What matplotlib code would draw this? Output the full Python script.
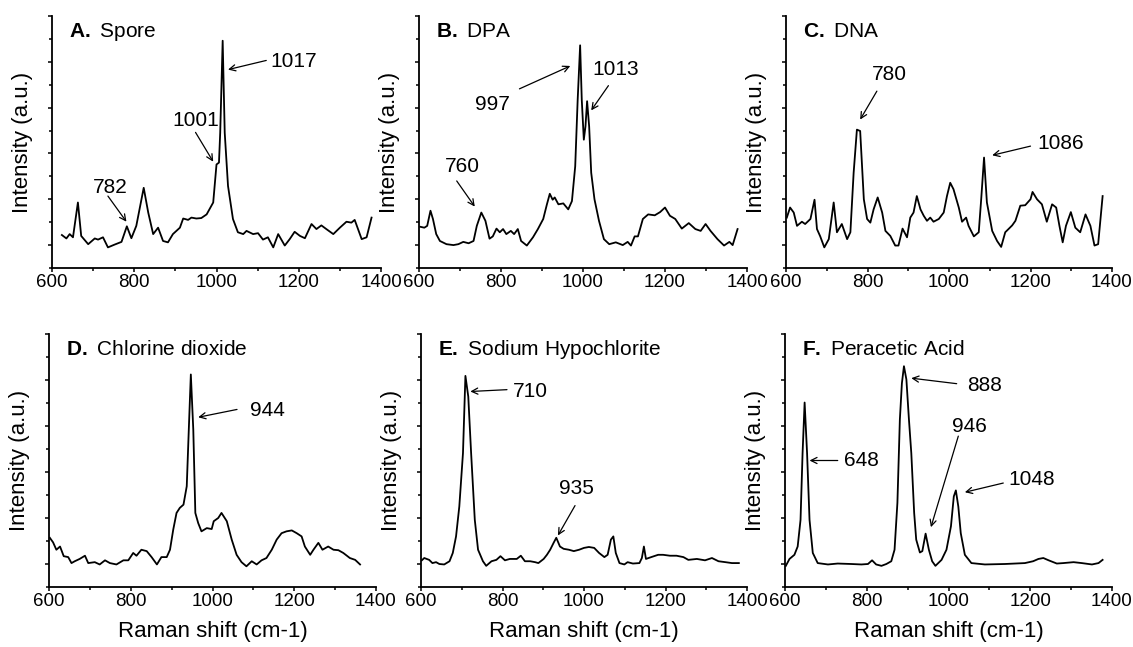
import matplotlib
matplotlib.use('Agg')
import matplotlib.pyplot as plt
from matplotlib.ticker import MultipleLocator

plt.rcParams['font.family'] = 'Liberation Sans'
plt.rcParams['mathtext.fontset'] = 'custom'
plt.rcParams['mathtext.rm'] = 'Liberation Sans'
plt.rcParams['mathtext.bf'] = 'Liberation Sans:bold'

# Spektrid, intensiivsus suvalistes ühikutes (loetud pildilt)
spore_x = [624, 635, 643, 651, 663, 671, 688, 704, 712, 724, 736, 752, 769, 782, 793, 805, 823, 834, 846, 858,
           870, 882, 894, 911, 919, 931, 939, 951, 963, 976, 992, 1000, 1006, 1009, 1015, 1020, 1028, 1040, 1052, 1065,
           1073, 1089, 1101, 1113, 1125, 1138, 1150, 1166, 1178, 1190, 1203, 1215, 1231, 1243, 1255, 1267, 1284, 1300,
           1316, 1328, 1336, 1353, 1365, 1377]
spore_y = [0.22, 0.145, 0.24, 0.17, 0.93, 0.2, 0.02, 0.145, 0.12, 0.17, -0.05, 0.01, 0.07, 0.41, 0.15, 0.42, 1.25,
           0.71, 0.24, 0.38, 0.09, 0.06, 0.24, 0.38, 0.58, 0.55, 0.60, 0.58, 0.59, 0.67, 0.93, 1.76, 1.80, 2.45, 4.46,
           2.45, 1.29, 0.57, 0.28, 0.24, 0.31, 0.24, 0.26, 0.12, 0.17, -0.05, 0.24, -0.01, 0.13, 0.29, 0.2, 0.15, 0.46,
           0.35, 0.43, 0.35, 0.24, 0.38, 0.51, 0.49, 0.55, 0.13, 0.17, 0.6]

dpa_x = [603, 613, 620, 628, 634, 642, 651, 667, 684, 696, 708, 721, 733, 741, 752, 762, 772, 780, 789, 797,
         805, 813, 824, 832, 841, 849, 863, 878, 890, 903, 912, 919, 926, 931, 940, 952, 964, 973, 981, 987,
         993, 997, 1002, 1006, 1010, 1015, 1020, 1028, 1039, 1051, 1064, 1080, 1097, 1109, 1117, 1126, 1134, 1146,
         1159, 1175, 1188, 1200, 1212, 1225, 1241, 1258, 1274, 1287, 1299, 1311, 1328, 1344, 1357, 1365, 1377]
dpa_y = [0.40, 0.38, 0.42, 0.75, 0.57, 0.24, 0.09, 0.02, 0.0, 0.02, 0.07, 0.04, 0.09, 0.42, 0.71, 0.53, 0.14, 0.19,
         0.36, 0.28, 0.35, 0.24, 0.31, 0.24, 0.35, 0.09, -0.01, 0.17, 0.35, 0.57, 0.89, 1.12, 0.99, 1.04, 0.89, 0.91,
         0.78, 0.96, 1.72, 3.17, 4.36, 3.17, 2.30, 2.59, 3.14, 2.59, 1.58, 1.0, 0.53, 0.13, 0.02, 0.06, 0.0, 0.07,
         -0.01, 0.19, 0.19, 0.57, 0.67, 0.65, 0.72, 0.82, 0.64, 0.57, 0.36, 0.48, 0.35, 0.31, 0.46, 0.31, 0.13, -0.01,
         0.07, 0.0, 0.35]

dna_x = [602, 610, 619, 627, 639, 647, 660, 670, 676, 684, 694, 705, 717, 725, 737, 750, 758, 766, 774, 782,
         791, 799, 807, 815, 825, 836, 844, 856, 868, 876, 886, 897, 905, 913, 921, 930, 938, 946, 954, 962,
         975, 987, 995, 1003, 1011, 1024, 1032, 1042, 1048, 1061, 1073, 1079, 1086, 1093, 1106, 1118, 1128, 1138,
         1146, 1155, 1163, 1175, 1187, 1200, 1205, 1216, 1228, 1240, 1253, 1263, 1271, 1279, 1287, 1299, 1310, 1322,
         1335, 1347, 1357, 1366, 1377]
dna_y = [0.60, 0.82, 0.71, 0.42, 0.51, 0.46, 0.57, 0.99, 0.35, 0.19, -0.05, 0.13, 0.93, 0.28, 0.46, 0.13, 0.28, 1.58,
         2.52, 2.49, 1.0, 0.57, 0.49, 0.78, 1.04, 0.71, 0.31, 0.2, -0.01, -0.01, 0.36, 0.17, 0.60, 0.71, 1.07, 0.78,
         0.64, 0.53, 0.60, 0.51, 0.57, 0.71, 1.07, 1.36, 1.22, 0.82, 0.51, 0.60, 0.42, 0.19, 0.28, 1.0, 1.91, 0.93,
         0.31, 0.09, -0.04, 0.28, 0.35, 0.43, 0.53, 0.86, 0.87, 1.0, 1.16, 1.0, 0.89, 0.51, 0.89, 0.82, 0.42, 0.06,
         0.42, 0.72, 0.38, 0.28, 0.67, 0.42, -0.01, 0.02, 1.07]

clo2_x = [602, 610, 618, 627, 636, 647, 655, 663, 675, 688, 696, 712, 724, 737, 749, 765, 782, 794, 806, 814,
          826, 839, 851, 864, 875, 888, 896, 904, 912, 920, 929, 937, 942, 947, 953, 958, 965, 973, 986, 998,
          1003, 1014, 1022, 1035, 1047, 1059, 1071, 1083, 1096, 1108, 1120, 1132, 1145, 1157, 1169, 1181, 1194, 1206,
          1218, 1226, 1239, 1247, 1259, 1269, 1283, 1296, 1308, 1320, 1336, 1349, 1361]
clo2_y = [0.57, 0.47, 0.31, 0.38, 0.17, 0.15, 0.02, 0.06, 0.11, 0.18, 0.02, 0.04, -0.01, 0.08, 0.02, -0.01, 0.08,
          0.08, 0.24, 0.18, 0.31, 0.28, 0.15, -0.01, 0.15, 0.15, 0.31, 0.75, 1.11, 1.22, 1.29, 1.69, 2.92, 4.12, 2.92,
          1.11, 0.89, 0.71, 0.78, 0.76, 0.93, 1.0, 1.11, 0.93, 0.53, 0.20, 0.04, -0.05, 0.06, -0.01, 0.08, 0.13, 0.31,
          0.53, 0.67, 0.71, 0.73, 0.67, 0.60, 0.38, 0.20, 0.31, 0.46, 0.31, 0.38, 0.31, 0.30, 0.24, 0.13, 0.09, -0.01]

naocl_x = [602, 608, 620, 628, 637, 645, 657, 670, 678, 686, 694, 703, 709, 716, 723, 732, 740, 752, 760, 773,
           785, 795, 806, 818, 835, 845, 855, 868, 880, 888, 901, 909, 917, 926, 932, 941, 950, 963, 975, 988,
           1000, 1012, 1025, 1037, 1050, 1058, 1066, 1072, 1078, 1087, 1099, 1107, 1120, 1136, 1142, 1147, 1152, 1165,
           1182, 1194, 1211, 1227, 1244, 1256, 1277, 1297, 1314, 1330, 1347, 1363, 1380]
naocl_y = [0.08, 0.13, 0.09, 0.02, 0.04, 0.0, -0.01, 0.06, 0.24, 0.60, 1.25, 2.41, 4.09, 3.64, 2.41, 0.96, 0.31,
           0.06, -0.04, 0.06, 0.09, 0.17, 0.08, 0.11, 0.11, 0.18, 0.06, 0.06, 0.04, 0.02, 0.11, 0.20, 0.31, 0.47, 0.57,
           0.38, 0.33, 0.31, 0.28, 0.31, 0.35, 0.37, 0.35, 0.24, 0.15, 0.20, 0.53, 0.60, 0.24, 0.02, -0.01, 0.04, 0.01,
           0.02, 0.13, 0.38, 0.11, 0.15, 0.20, 0.20, 0.18, 0.18, 0.15, 0.09, 0.11, 0.08, 0.13, 0.06, 0.04, 0.02, 0.02]

paa_x = [602, 611, 623, 631, 638, 643, 648, 654, 660, 668, 680, 705, 729, 762, 787, 803, 813, 823, 836, 848,
         860, 868, 875, 881, 886, 891, 897, 903, 909, 916, 921, 930, 936, 944, 952, 960, 968, 983, 995, 1006,
         1013, 1018, 1024, 1030, 1040, 1056, 1089, 1138, 1187, 1207, 1220, 1232, 1245, 1265, 1281, 1306, 1326, 1351,
         1367, 1377]
paa_y = [-0.04, 0.11, 0.20, 0.38, 0.96, 2.41, 3.51, 2.41, 0.96, 0.24, 0.02, -0.01, 0.01, 0.0, -0.01, 0.0, 0.08,
         -0.01, -0.04, 0.0, 0.06, 0.31, 1.33, 3.14, 3.93, 4.30, 4.01, 3.17, 2.41, 1.11, 0.53, 0.25, 0.28, 0.66, 0.31,
         0.06, -0.04, 0.09, 0.31, 0.82, 1.47, 1.60, 1.25, 0.67, 0.20, 0.02, -0.01, 0.0, 0.02, 0.06, 0.11, 0.13, 0.08,
         0.01, 0.02, 0.04, 0.02, -0.01, 0.02, 0.09]

titles = [('A.', 'Spore'), ('B.', 'DPA'), ('C.', 'DNA'),
          ('D.', 'Chlorine dioxide'), ('E.', 'Sodium Hypochlorite'), ('F.', 'Peracetic Acid')]
series = [(spore_x, spore_y), (dpa_x, dpa_y), (dna_x, dna_y),
          (clo2_x, clo2_y), (naocl_x, naocl_y), (paa_x, paa_y)]

# Piikide sildid: (tekst, teksti x, y, noole algus x, y, noole ots x, y)
peaks = [
    [('782', 741, 1.25, 736, 1.07, 781, 0.51), ('1001', 950, 2.72, 949, 2.46, 992, 1.82),
     ('1017', 1188, 4.01, 1121, 4.03, 1028, 3.83)],
    [('760', 707, 1.72, 692, 1.40, 736, 0.84), ('997', 779, 3.07, 845, 3.41, 969, 3.91),
     ('1013', 1079, 3.83, 1062, 3.48, 1020, 2.94)],
    [('780', 854, 3.72, 823, 3.36, 782, 2.74), ('1086', 1273, 2.21, 1200, 2.16, 1106, 1.96)],
    [('944', 1134, 3.34, 1060, 3.36, 965, 3.19)],
    [('710', 868, 3.76, 811, 3.79, 721, 3.75), ('935', 982, 1.65, 978, 1.27, 936, 0.62)],
    [('648', 787, 2.24, 729, 2.25, 660, 2.25), ('888', 1088, 3.88, 1020, 3.92, 909, 4.04),
     ('946', 1051, 2.99, 1024, 2.78, 957, 0.80), ('1048', 1204, 1.83, 1134, 1.76, 1040, 1.56)],
]

W, H = 1133, 647
# teljed pikslites: vasak, ülemine, laius, kõrgus
boxes = [(52, 16, 329, 252), (419, 16, 328, 252), (786, 16, 326, 252),
         (49, 334, 327, 253), (421, 334, 326, 253), (785, 334, 327, 253)]

fig = plt.figure(figsize=(W / 100, H / 100), dpi=100)

for i in range(6):
    l, t, w, h = boxes[i]
    ax = fig.add_axes([l / W, 1 - (t + h) / H, w / W, h / H])
    x, y = series[i]
    ax.plot(x, y, color='black', lw=1.3)

    ax.set_xlim(600, 1400)
    ax.set_ylim(-0.5, 5)
    ax.xaxis.set_major_locator(MultipleLocator(200))
    ax.xaxis.set_minor_locator(MultipleLocator(100))
    ax.yaxis.set_major_locator(MultipleLocator(1))
    ax.yaxis.set_minor_locator(MultipleLocator(0.5))
    ax.set_yticklabels([])
    ax.tick_params(which='both', direction='out', width=1.1, labelsize=13.5, pad=1)
    ax.tick_params(which='major', length=3)
    ax.tick_params(which='minor', length=2)
    for s in ['top', 'right']:
        ax.spines[s].set_visible(False)
    for s in ['left', 'bottom']:
        ax.spines[s].set_linewidth(1.3)

    ax.set_ylabel('Intensity (a.u.)', fontsize=16)
    ax.yaxis.set_label_coords(-0.057, 0.5)
    if i >= 3:
        ax.set_xlabel('Raman shift (cm-1)', fontsize=16)
        ax.xaxis.set_label_coords(0.5, -0.135)

    letter, name = titles[i]
    ax.text(0.053, 0.918, r'$\mathbf{' + letter + '}$ ' + name, transform=ax.transAxes,
            fontsize=15, ha='left', va='baseline')

    for lab, tx, ty, ax0, ay0, hx, hy in peaks[i]:
        ax.annotate('', xy=(hx, hy), xytext=(ax0, ay0),
                    arrowprops=dict(arrowstyle='->', lw=0.9, color='black',
                                    shrinkA=0, shrinkB=0, mutation_scale=11))
        ax.text(tx, ty, lab, fontsize=15, ha='center', va='center')

fig.savefig('out.png', dpi=100)
